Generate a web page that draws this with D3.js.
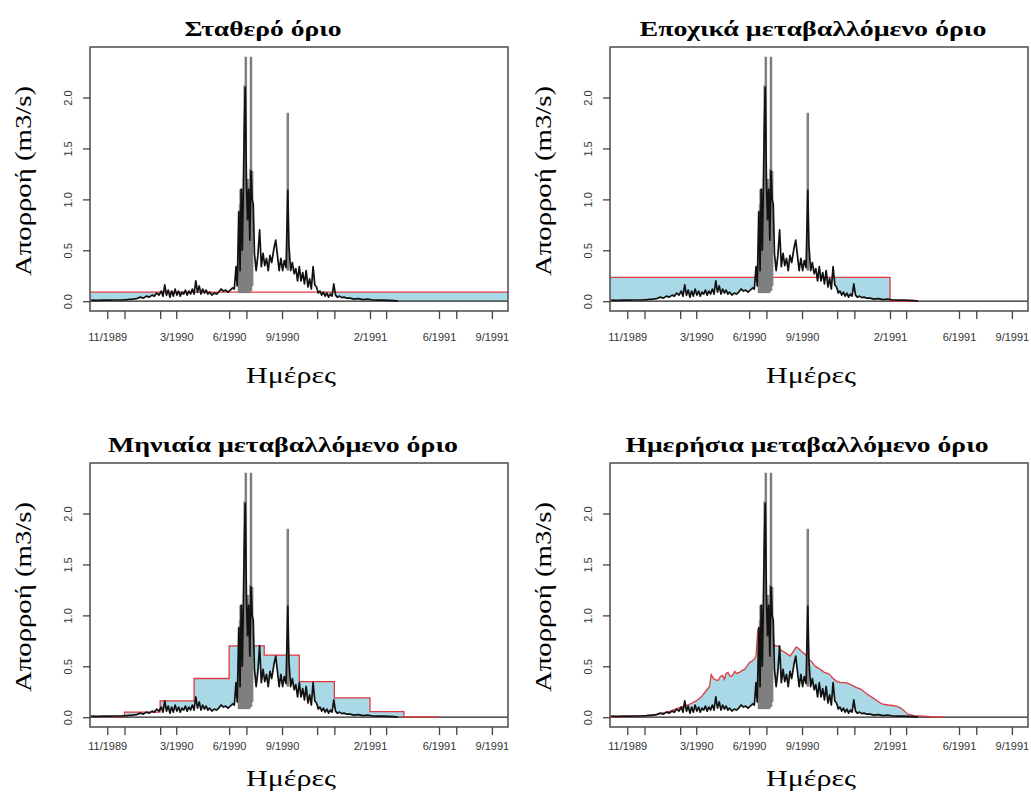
<!DOCTYPE html>
<html>
<head>
<meta charset="utf-8">
<script src="https://cdn.jsdelivr.net/npm/d3@7"></script>
<style>
body { margin: 0; background: #fff; }
</style>
</head>
<body>
<script>

// daily flow (m3/s)
var flowDates = ["1989-10-04","1989-10-15","1989-10-25","1989-11-05","1989-11-15","1989-11-25","1989-12-05","1989-12-15","1989-12-22","1989-12-28",
  "1990-01-03","1990-01-08","1990-01-13","1990-01-18","1990-01-22","1990-01-26","1990-01-30","1990-02-03","1990-02-06","1990-02-09",
  "1990-02-12","1990-02-15","1990-02-18","1990-02-21","1990-02-24","1990-02-27","1990-03-02","1990-03-05","1990-03-08","1990-03-11",
  "1990-03-14","1990-03-17","1990-03-20","1990-03-23","1990-03-26","1990-03-29","1990-04-01","1990-04-04","1990-04-07","1990-04-10",
  "1990-04-13","1990-04-16","1990-04-19","1990-04-22","1990-04-25","1990-04-28","1990-05-02","1990-05-06","1990-05-10","1990-05-14",
  "1990-05-18","1990-05-22","1990-05-26","1990-05-30","1990-06-03","1990-06-07","1990-06-10","1990-06-13","1990-06-15","1990-06-18",
  "1990-06-20","1990-06-22","1990-06-24","1990-06-27","1990-06-29","1990-07-01","1990-07-03","1990-07-05","1990-07-07","1990-07-09",
  "1990-07-11","1990-07-13","1990-07-15","1990-07-18","1990-07-21","1990-07-24","1990-07-27","1990-07-30","1990-08-02","1990-08-05",
  "1990-08-08","1990-08-11","1990-08-14","1990-08-18","1990-08-21","1990-08-24","1990-08-27","1990-08-30","1990-09-02","1990-09-05",
  "1990-09-08","1990-09-11","1990-09-13","1990-09-16","1990-09-19","1990-09-22","1990-09-25","1990-09-28","1990-10-01","1990-10-04",
  "1990-10-07","1990-10-10","1990-10-13","1990-10-16","1990-10-19","1990-10-22","1990-10-25","1990-10-28","1990-10-31","1990-11-03",
  "1990-11-06","1990-11-09","1990-11-12","1990-11-15","1990-11-18","1990-11-21","1990-11-24","1990-11-27","1990-11-30","1990-12-03",
  "1990-12-06","1990-12-10","1990-12-14","1990-12-18","1990-12-22","1990-12-28","1991-01-04","1991-01-12","1991-01-20","1991-01-28",
  "1991-02-06","1991-02-15","1991-02-25","1991-03-06","1991-03-15","1991-03-22"];
var flowValues = [0.01,0.008,0.01,0.01,0.012,0.012,0.015,0.02,0.025,0.04,
  0.03,0.05,0.04,0.06,0.05,0.08,0.06,0.1,0.05,0.16,
  0.06,0.11,0.04,0.1,0.05,0.12,0.06,0.1,0.05,0.09,
  0.07,0.11,0.06,0.1,0.07,0.12,0.07,0.2,0.09,0.15,
  0.07,0.12,0.08,0.11,0.07,0.09,0.06,0.08,0.07,0.09,
  0.12,0.1,0.11,0.09,0.11,0.13,0.12,0.34,0.15,0.88,
  0.3,1.1,0.5,1.6,2.1,1.2,0.8,1.1,0.6,1.28,
  1.0,0.95,0.47,0.3,0.45,0.7,0.34,0.47,0.35,0.42,
  0.3,0.45,0.38,0.52,0.6,0.45,0.3,0.42,0.3,0.4,
  0.33,1.09,0.55,0.3,0.38,0.27,0.32,0.2,0.34,0.2,
  0.28,0.17,0.3,0.14,0.22,0.12,0.34,0.16,0.14,0.08,
  0.1,0.06,0.09,0.05,0.08,0.04,0.07,0.05,0.17,0.06,
  0.04,0.05,0.035,0.04,0.03,0.03,0.02,0.025,0.015,0.02,
  0.012,0.01,0.01,0.008,0.005,0.0];

// short flood peaks drawn grey (date, low, high)
var spikeDates = ["1990-06-18","1990-06-20","1990-06-21","1990-06-22","1990-06-24","1990-06-25","1990-06-26","1990-06-28","1990-06-30",
  "1990-07-02","1990-07-03","1990-07-05","1990-07-06","1990-07-08","1990-07-09","1990-07-11","1990-09-11"];
var spikeLow = [0.08,0.08,0.08,0.08,0.08,0.08,0.08,0.08,0.08,
  0.08,0.1,0.08,0.08,0.1,0.1,0.15,0.3];
var spikeHigh = [0.88,0.95,1.1,1.1,1.1,1.05,1.1,2.12,2.4,
  1.2,1.2,1.1,1.1,1.3,2.4,1.28,1.85];

// thresholds
var constantDates = ["1989-10-02","1991-09-29"];
var constantValues = [0.09,0.09];

var seasonalDates = ["1989-10-02","1991-02-01","1991-03-22"];
var seasonalValues = [0.235,0,0];

var monthlyDates = ["1989-10-02","1989-12-01","1990-02-01","1990-04-01","1990-06-01","1990-08-01","1990-10-01","1990-12-01","1991-02-01","1991-04-01","1991-06-01"];
var monthlyValues = [0.005,0.05,0.16,0.38,0.70,0.61,0.35,0.19,0.055,0.003,0.003];

var dailyDates = ["1989-10-02","1989-10-20","1989-11-10","1989-12-02","1989-12-20","1990-01-01","1990-01-15","1990-02-02","1990-02-15","1990-03-01",
  "1990-03-10","1990-03-18","1990-03-24","1990-03-27","1990-03-31","1990-04-03","1990-04-08","1990-04-12","1990-04-16","1990-04-19",
  "1990-04-22","1990-04-25","1990-04-29","1990-05-03","1990-05-07","1990-05-10","1990-05-15","1990-05-20","1990-05-24","1990-05-28",
  "1990-06-02","1990-06-06","1990-06-10","1990-06-13","1990-06-16","1990-06-20","1990-06-23","1990-06-27","1990-07-01","1990-07-04",
  "1990-07-07","1990-07-11","1990-07-16","1990-07-21","1990-07-26","1990-08-01","1990-08-06","1990-08-11","1990-08-16","1990-08-22",
  "1990-08-27","1990-09-01","1990-09-06","1990-09-12","1990-09-17","1990-09-24","1990-09-30","1990-10-05","1990-10-10","1990-10-15",
  "1990-10-19","1990-10-25","1990-11-01","1990-11-08","1990-11-15","1990-11-21","1990-11-28","1990-12-05","1990-12-10","1990-12-14",
  "1990-12-20","1990-12-25","1991-01-02","1991-01-10","1991-01-18","1991-01-28","1991-02-05","1991-02-12","1991-02-18","1991-02-22",
  "1991-02-28","1991-03-04","1991-03-15","1991-04-01","1991-04-13","1991-05-06"];
var dailyValues = [0.0,0.003,0.008,0.016,0.025,0.04,0.06,0.1,0.12,0.16,
  0.2,0.26,0.3,0.42,0.38,0.37,0.36,0.4,0.41,0.37,
  0.43,0.44,0.40,0.41,0.45,0.43,0.44,0.46,0.47,0.50,
  0.54,0.55,0.57,0.6,0.86,0.9,0.96,0.92,0.8,0.74,
  0.72,0.74,0.70,0.70,0.66,0.64,0.62,0.6,0.64,0.69,
  0.67,0.64,0.62,0.57,0.55,0.50,0.48,0.46,0.44,0.43,
  0.42,0.38,0.35,0.34,0.34,0.33,0.31,0.29,0.28,0.27,
  0.24,0.22,0.19,0.16,0.13,0.12,0.115,0.11,0.095,0.08,
  0.05,0.03,0.016,0.01,0.005,0.0];

var tickDates = ["1989-11-01","1989-12-01","1990-02-01","1990-03-01","1990-06-01","1990-07-01","1990-09-01","1990-11-01","1990-12-01","1991-02-01","1991-03-01","1991-06-01","1991-07-01","1991-09-01"];
var labelDates = ["1989-11-01","1990-03-01","1990-06-01","1990-09-01","1991-02-01","1991-06-01","1991-09-01"];
var yTicks = [0,0.5,1,1.5,2];

var parse = d3.timeParse("%Y-%m-%d");
var fmt = d3.timeFormat("%-m/%Y");

var flow = flowDates.map(function(d,i){ return {date: parse(d), v: flowValues[i]}; });
var spikes = spikeDates.map(function(d,i){ return {date: parse(d), lo: spikeLow[i], hi: spikeHigh[i]}; });
var labelSet = labelDates.map(function(d){ return +parse(d); });

var svg = d3.select("body").append("svg")
    .attr("width", 1031)
    .attr("height", 792);

var W = 418, H = 264;

var panels = [
  {id:"p1", left:90, top:47, title:"Σταθερό όριο", titleX:263, titleW:157, labPad:14, xTitleY:383,
   dates:constantDates, values:constantValues, curve:d3.curveLinear},
  {id:"p2", left:610, top:47, title:"Εποχικά μεταβαλλόμενο όριο", titleX:813, titleW:347, labPad:14, xTitleY:383,
   dates:seasonalDates, values:seasonalValues, curve:d3.curveStepAfter},
  {id:"p3", left:90, top:463, title:"Μηνιαία μεταβαλλόμενο όριο", titleX:283, titleW:350, labPad:7, xTitleY:786,
   dates:monthlyDates, values:monthlyValues, curve:d3.curveStepAfter},
  {id:"p4", left:610, top:463, title:"Ημερήσια μεταβαλλόμενο όριο", titleX:807, titleW:363, labPad:7, xTitleY:786,
   dates:dailyDates, values:dailyValues, curve:d3.curveLinear}
];

panels.forEach(function(p){
  var x = d3.scaleTime()
      .domain([parse("1989-10-02"), parse("1991-09-29")])
      .range([p.left, p.left + W]);
  var y = d3.scaleLinear()
      .domain([-0.096, 2.496])
      .range([p.top + H, p.top]);

  var g = svg.append("g");
  var thr = p.dates.map(function(d,i){ return {date: parse(d), v: p.values[i]}; });

  // clip = everything above the flow line
  var clipData = [{date: x.domain()[0], v: flow[0].v}].concat(flow, [{date: x.domain()[1], v: 0}]);
  g.append("clipPath").attr("id", "clip-" + p.id)
    .append("path")
    .attr("d", d3.area()
        .x(function(d){ return x(d.date); })
        .y0(p.top)
        .y1(function(d){ return y(d.v); })(clipData));

  // deficit area
  g.append("path")
    .attr("clip-path", "url(#clip-" + p.id + ")")
    .attr("fill", "#a9d9e6")
    .attr("d", d3.area().curve(p.curve)
        .x(function(d){ return x(d.date); })
        .y0(y(0))
        .y1(function(d){ return y(d.v); })(thr));

  // zero line
  g.append("line")
    .attr("x1", p.left).attr("x2", p.left + W)
    .attr("y1", y(0)).attr("y2", y(0))
    .attr("stroke", "#222").attr("stroke-width", 1.2);

  // threshold
  g.append("path")
    .attr("fill", "none")
    .attr("stroke", "#e0393e")
    .attr("stroke-width", 1.3)
    .attr("d", d3.line().curve(p.curve)
        .x(function(d){ return x(d.date); })
        .y(function(d){ return y(d.v); })(thr));

  // grey peaks
  g.selectAll("line.spike")
    .data(spikes)
    .enter()
    .append("line")
    .attr("class", "spike")
    .attr("x1", function(d){ return x(d.date); })
    .attr("x2", function(d){ return x(d.date); })
    .attr("y1", function(d){ return y(d.lo); })
    .attr("y2", function(d){ return y(d.hi); })
    .attr("stroke", "#7f7f7f")
    .attr("stroke-width", 2.5);

  // flow
  g.append("path")
    .attr("fill", "none")
    .attr("stroke", "#111")
    .attr("stroke-width", 1.7)
    .attr("stroke-linejoin", "round")
    .attr("d", d3.line()
        .x(function(d){ return x(d.date); })
        .y(function(d){ return y(d.v); })(flow));

  // box
  g.append("rect")
    .attr("x", p.left).attr("y", p.top)
    .attr("width", W).attr("height", H)
    .attr("fill", "none")
    .attr("stroke", "#555")
    .attr("stroke-width", 1.6);

  // x axis
  var xa = g.append("g")
    .attr("transform", "translate(0," + (p.top + H) + ")")
    .call(d3.axisBottom(x)
        .tickValues(tickDates.map(parse))
        .tickFormat(function(d){ return labelSet.indexOf(+d) >= 0 ? fmt(d) : ""; })
        .tickSize(8)
        .tickPadding(p.labPad));
  xa.select(".domain").remove();
  xa.selectAll("line").attr("stroke", "#444").attr("stroke-width", 1.3);
  xa.selectAll("text")
    .attr("fill", "#333")
    .style("font-family", "Liberation Sans, Arial, sans-serif")
    .style("font-size", "11px");

  // y axis
  var ya = g.append("g")
    .attr("transform", "translate(" + p.left + ",0)")
    .call(d3.axisLeft(y)
        .tickValues(yTicks)
        .tickFormat(d3.format(".1f"))
        .tickSize(7));
  ya.select(".domain").remove();
  ya.selectAll("line").attr("stroke", "#444").attr("stroke-width", 1.3);
  ya.selectAll("text")
    .attr("x", null)
    .attr("dy", "0.35em")
    .attr("text-anchor", "middle")
    .attr("transform", "translate(-22,0) rotate(-90)")
    .attr("fill", "#333")
    .style("font-family", "Liberation Sans, Arial, sans-serif")
    .style("font-size", "11px");

  // title
  g.append("text")
    .attr("x", p.titleX).attr("y", p.top - 11)
    .attr("text-anchor", "middle")
    .attr("textLength", p.titleW)
    .attr("lengthAdjust", "spacingAndGlyphs")
    .style("font-family", "Liberation Serif, Times New Roman, serif")
    .style("font-weight", "bold")
    .style("font-size", "22px")
    .text(p.title);

  // axis titles
  g.append("text")
    .attr("transform", "translate(" + (p.left - 59) + "," + (p.top + 134) + ") rotate(-90)")
    .attr("text-anchor", "middle")
    .attr("textLength", 190)
    .attr("lengthAdjust", "spacingAndGlyphs")
    .style("font-family", "Liberation Serif, Times New Roman, serif")
    .style("font-size", "24px")
    .text("Απορροή (m3/s)");

  g.append("text")
    .attr("x", p.left + 201).attr("y", p.xTitleY)
    .attr("text-anchor", "middle")
    .attr("textLength", 90)
    .attr("lengthAdjust", "spacingAndGlyphs")
    .style("font-family", "Liberation Serif, Times New Roman, serif")
    .style("font-size", "24px")
    .text("Ημέρες");
});

</script>
</body>
</html>
